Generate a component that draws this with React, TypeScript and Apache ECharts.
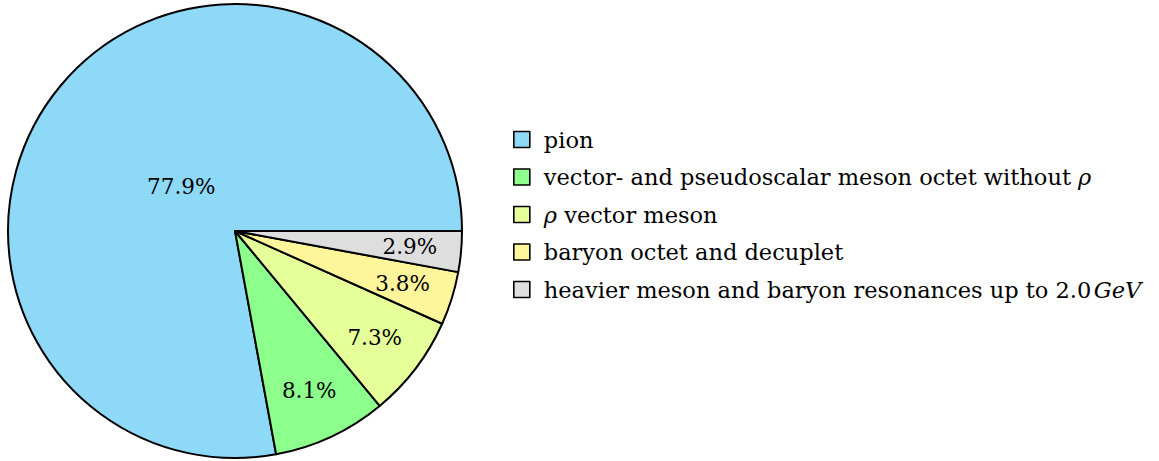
import React, { useEffect, useRef } from "react";
import * as echarts from "echarts";

const categories = [
  "pion",
  "vector- and pseudoscalar meson octet without ρ",
  "ρ vector meson",
  "baryon octet and decuplet",
  "heavier meson and baryon resonances up to 2.0 GeV",
];
const values = [77.9, 8.1, 7.3, 3.8, 2.9];
const colors = ["#8fd9f8", "#8cff8c", "#e5ff99", "#fff59b", "#dedede"];
const legendRich = [
  "pion",
  "vector- and pseudoscalar meson octet without {i|ρ}",
  "{i|ρ} vector meson",
  "baryon octet and decuplet",
  "heavier meson and baryon resonances up to 2.0{s| }{i|GeV}",
];

const FONT = "DejaVu Serif";
const FS = 21.5;
const LFS = 22.5;

export default function App() {
  const ref = useRef<HTMLDivElement>(null);
  useEffect(() => {
    if (!ref.current) return;
    const chart = echarts.init(ref.current, undefined, { renderer: "svg" });
    const R = 227;
    const data = categories.map((name, i) => ({
      name,
      value: values[i],
      itemStyle: { color: colors[i] },
    }));
    const labelText = (p: any) => p.value.toFixed(1) + "%";
    const labelStyle = {
      show: true,
      position: "inside",
      formatter: labelText,
      fontFamily: FONT,
      fontSize: FS,
      color: "#000",
    };
    chart.setOption({
      animation: false,
      legend: {
        orient: "vertical",
        left: 513,
        top: 128,
        padding: 0,
        itemWidth: 16,
        itemHeight: 16,
        itemGap: 14.5,
        icon: "rect",
        itemStyle: { borderColor: "#000", borderWidth: 1.6 },
        data: categories,
        selectedMode: false,
        formatter: (name: string) => legendRich[categories.indexOf(name)],
        textStyle: {
          fontFamily: FONT,
          fontSize: LFS,
          lineHeight: 16,
          color: "#000",
          padding: [0, 0, 0, 9],
          rich: {
            i: { fontFamily: FONT, fontSize: LFS, lineHeight: 16, fontStyle: "italic", color: "#000" },
            s: { fontFamily: FONT, fontSize: 8, lineHeight: 16, color: "#000" },
          },
        },
      },
      series: [
        {
          type: "pie",
          center: [235, 231],
          radius: [0, R],
          startAngle: 0,
          clockwise: false,
          avoidLabelOverlap: false,
          label: { show: false },
          labelLine: { show: false },
          itemStyle: { borderColor: "#000", borderWidth: 2 },
          emphasis: { disabled: true },
          data,
        },
        {
          type: "pie",
          silent: true,
          center: [235, 231],
          radius: [R * 0.52, R],
          startAngle: 0,
          clockwise: false,
          avoidLabelOverlap: false,
          itemStyle: { color: "transparent", borderWidth: 0 },
          label: labelStyle,
          labelLine: { show: false },
          emphasis: { disabled: true },
          data: data.map((d, i) => ({
            name: d.name,
            value: d.value,
            itemStyle: { color: "transparent" },
            label: { show: i !== 0 },
          })),
        },
        {
          type: "pie",
          silent: true,
          center: [235, 231],
          radius: [0, R * 0.59],
          startAngle: 0,
          clockwise: false,
          avoidLabelOverlap: false,
          itemStyle: { color: "transparent", borderWidth: 0 },
          label: labelStyle,
          labelLine: { show: false },
          emphasis: { disabled: true },
          data: data.map((d, i) => ({
            name: d.name,
            value: d.value,
            itemStyle: { color: "transparent" },
            label: { show: i === 0 },
          })),
        },
      ],
    });
    return () => chart.dispose();
  }, []);
  return (
    <div
      ref={ref}
      style={{ position: "fixed", left: 0, top: 0, width: 1159, height: 461, background: "#fff" }}
    />
  );
}
